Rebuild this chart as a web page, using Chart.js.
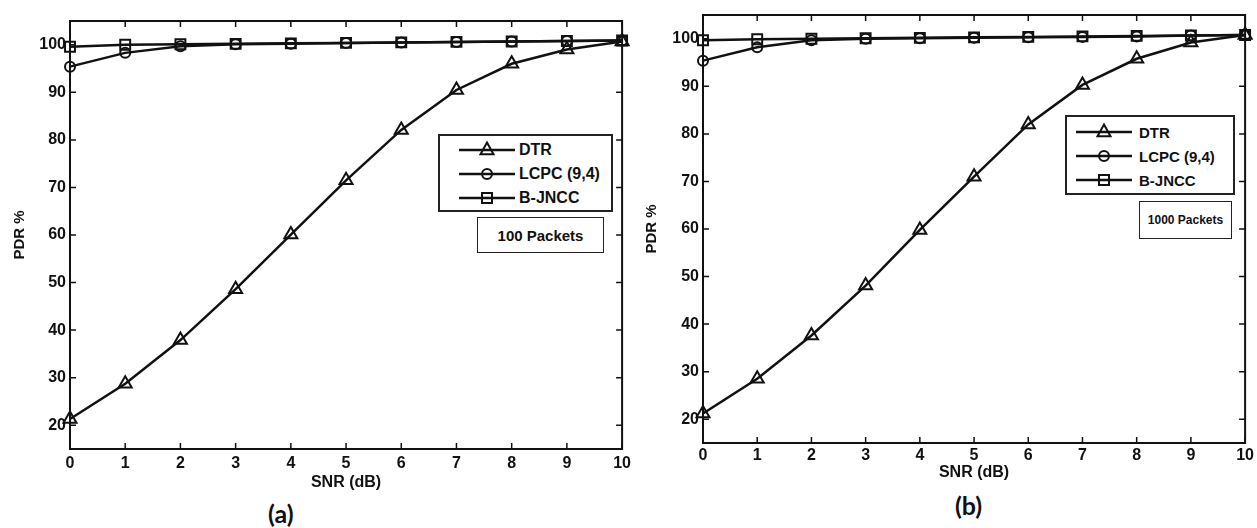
<!DOCTYPE html>
<html>
<head>
<meta charset="utf-8">
<title>PDR vs SNR</title>
<script src="https://cdn.jsdelivr.net/npm/chart.js@4.4.0/dist/chart.umd.min.js"></script>
<style>
  body { margin: 0; background: #fff; width: 1257px; height: 528px; position: relative; overflow: hidden;
         font-family: "Liberation Sans", Arial, sans-serif; color: #111; }
  .wrap { position: absolute; top: 0; height: 528px; }
  #wrapA { left: 0; width: 636px; z-index: 2; }
  #wrapB { left: 630px; width: 627px; z-index: 1; }
  .legend { position: absolute; border: 2px solid #222; background: #fff; font-weight: bold; box-sizing: border-box; z-index: 3; }
  .legend .row { display: flex; align-items: center; height: 24px; white-space: nowrap; }
  .legend svg { display: block; }
  .note { position: absolute; border: 1.5px solid #222; background: #fff; font-weight: bold; box-sizing: border-box;
          display: flex; align-items: center; justify-content: center; white-space: nowrap; z-index: 3; }
  .cap { position: absolute; font-family: Lato, "Open Sans", sans-serif; font-size: 25px; font-weight: bold; color: #111; }
</style>
</head>
<body>
<div class="wrap" id="wrapA"><canvas id="chartA"></canvas></div>
<div class="wrap" id="wrapB"><canvas id="chartB"></canvas></div>

<!-- legends drawn as html so the sample shows line + marker like matlab -->
<div class="legend" id="legA" style="left:438px; top:134px; width:175px; height:78px; padding-top:2px; font-size:16px;"></div>
<div class="note" style="left:477px; top:217px; width:127px; height:36px; font-size:15px;">100 Packets</div>
<div class="legend" id="legB" style="left:1065px; top:115px; width:170px; height:80px; padding-top:3px; font-size:15px;"></div>
<div class="note" style="left:1139px; top:201px; width:93px; height:38px; font-size:12px;">1000 Packets</div>

<div class="cap" style="left:268px; top:498px;">(a)</div>
<div class="cap" style="left:955px; top:490px;">(b)</div>

<script>
// x axis: SNR (dB)
const snr = [0, 1, 2, 3, 4, 5, 6, 7, 8, 9, 10];
const xTicks = [0, 1, 2, 3, 4, 5, 6, 7, 8, 9, 10];
const yTicks = [20, 30, 40, 50, 60, 70, 80, 90, 100];
const seriesNames = ['DTR', 'LCPC (9,4)', 'B-JNCC'];

// (a) 100 packets
const dtrA   = [21.3, 28.7, 37.9, 48.6, 60.1, 71.5, 82.1, 90.5, 96.0, 99.0, 100.7];
const lcpcA  = [95.4, 98.3, 99.7, 100.1, 100.2, 100.4, 100.5, 100.6, 100.7, 100.8, 100.9];
const bjnccA = [99.6, 100.0, 100.1, 100.2, 100.3, 100.4, 100.5, 100.6, 100.7, 100.8, 100.9];

// (b) 1000 packets
const dtrB   = [21.2, 28.5, 37.6, 48.1, 59.8, 71.0, 82.0, 90.3, 95.8, 99.2, 100.8];
const lcpcB  = [95.4, 98.2, 99.7, 100.0, 100.1, 100.2, 100.3, 100.4, 100.5, 100.7, 100.8];
const bjnccB = [99.7, 99.9, 100.0, 100.1, 100.2, 100.3, 100.4, 100.5, 100.6, 100.7, 100.8];

const ink = '#111';
const markers = ['triangle', 'circle', 'rect'];
const radii = [7.5, 5, 7];

// box + inward ticks on all four sides
const frameTicks = {
  id: 'frameTicks',
  afterDraw(chart) {
    const { ctx, chartArea: a, scales: { x, y } } = chart;
    ctx.save();
    ctx.strokeStyle = ink;
    ctx.lineWidth = 2;
    ctx.strokeRect(a.left, a.top, a.right - a.left, a.bottom - a.top);
    ctx.lineWidth = 1.5;
    ctx.beginPath();
    x.ticks.forEach(t => {
      const px = x.getPixelForValue(t.value);
      ctx.moveTo(px, a.bottom); ctx.lineTo(px, a.bottom - 6);
      ctx.moveTo(px, a.top); ctx.lineTo(px, a.top + 6);
    });
    y.ticks.forEach(t => {
      const py = y.getPixelForValue(t.value);
      ctx.moveTo(a.left, py); ctx.lineTo(a.left + 6, py);
      ctx.moveTo(a.right, py); ctx.lineTo(a.right - 6, py);
    });
    ctx.stroke();
    ctx.restore();
  }
};

function makeChart(id, lists, g) {
  const datasets = lists.map((vals, i) => ({
    label: seriesNames[i],
    data: snr.map((s, k) => ({ x: s, y: vals[k] })),
    borderColor: ink,
    borderWidth: 2.5,
    pointStyle: markers[i],
    pointRadius: radii[i],
    pointBorderColor: ink,
    pointBorderWidth: 2,
    pointBackgroundColor: 'rgba(0,0,0,0)',
    tension: 0,
    clip: false
  }));
  return new Chart(document.getElementById(id), {
    type: 'line',
    data: { datasets: datasets.reverse() },
    options: {
      responsive: true,
      maintainAspectRatio: false,
      animation: false,
      layout: { padding: { left: 0, top: g.top, right: g.right, bottom: 0 } },
      plugins: { legend: { display: false }, tooltip: { enabled: false } },
      scales: {
        x: {
          type: 'linear', min: 0, max: 10,
          afterBuildTicks: s => { s.ticks = xTicks.map(v => ({ value: v })); },
          afterFit: s => { s.height = g.xHeight; },
          grid: { display: false, drawTicks: false },
          border: { display: false },
          ticks: { color: ink, font: { family: 'Liberation Sans', size: 16, weight: 'bold' }, padding: g.xTickPad, maxRotation: 0, autoSkip: false },
          title: { display: true, text: 'SNR (dB)', color: ink, font: { family: 'Liberation Sans', size: 16, weight: 'bold' }, padding: { top: 0, bottom: g.xTitlePad } }
        },
        y: {
          type: 'linear', min: 15, max: 105,
          afterBuildTicks: s => { s.ticks = yTicks.map(v => ({ value: v })); },
          afterFit: s => { s.width = g.yWidth; },
          grid: { display: false, drawTicks: false },
          border: { display: false },
          ticks: { color: ink, font: { family: 'Liberation Sans', size: 16, weight: 'bold' }, padding: 4 },
          title: { display: true, text: 'PDR %', color: ink, font: { family: 'Liberation Sans', size: 15, weight: 'bold' }, padding: { top: g.yTitlePad, bottom: 0 } }
        }
      }
    },
    plugins: [frameTicks]
  });
}

makeChart('chartA', [dtrA, lcpcA, bjnccA], { top: 21, right: 8, xHeight: 79, xTickPad: 5, xTitlePad: 36, yWidth: 70, yTitlePad: 11 });
makeChart('chartB', [dtrB, lcpcB, bjnccB], { top: 15, right: 11, xHeight: 85, xTickPad: 3, xTitlePad: 46, yWidth: 73, yTitlePad: 13 });

// legend rows
function sampleSvg(i) {
  let m = '';
  if (i === 0) m = '<polygon points="28,4.5 34.5,16.3 21.5,16.3" fill="none" stroke="#111" stroke-width="2"/>';
  if (i === 1) m = '<circle cx="28" cy="12" r="5" fill="none" stroke="#111" stroke-width="2"/>';
  if (i === 2) m = '<rect x="23" y="7" width="10" height="10" fill="none" stroke="#111" stroke-width="2"/>';
  return '<svg width="56" height="24"><line x1="0" y1="12" x2="56" y2="12" stroke="#111" stroke-width="2.5"/>' + m + '</svg>';
}
function fillLegend(id, indent, gap) {
  const el = document.getElementById(id);
  seriesNames.forEach((name, i) => {
    const row = document.createElement('div');
    row.className = 'row';
    row.style.paddingLeft = indent + 'px';
    row.innerHTML = sampleSvg(i) + '<span style="margin-left:' + gap + 'px">' + name + '</span>';
    el.appendChild(row);
  });
}
fillLegend('legA', 19, 4);
fillLegend('legB', 9, 7);
</script>
</body>
</html>
